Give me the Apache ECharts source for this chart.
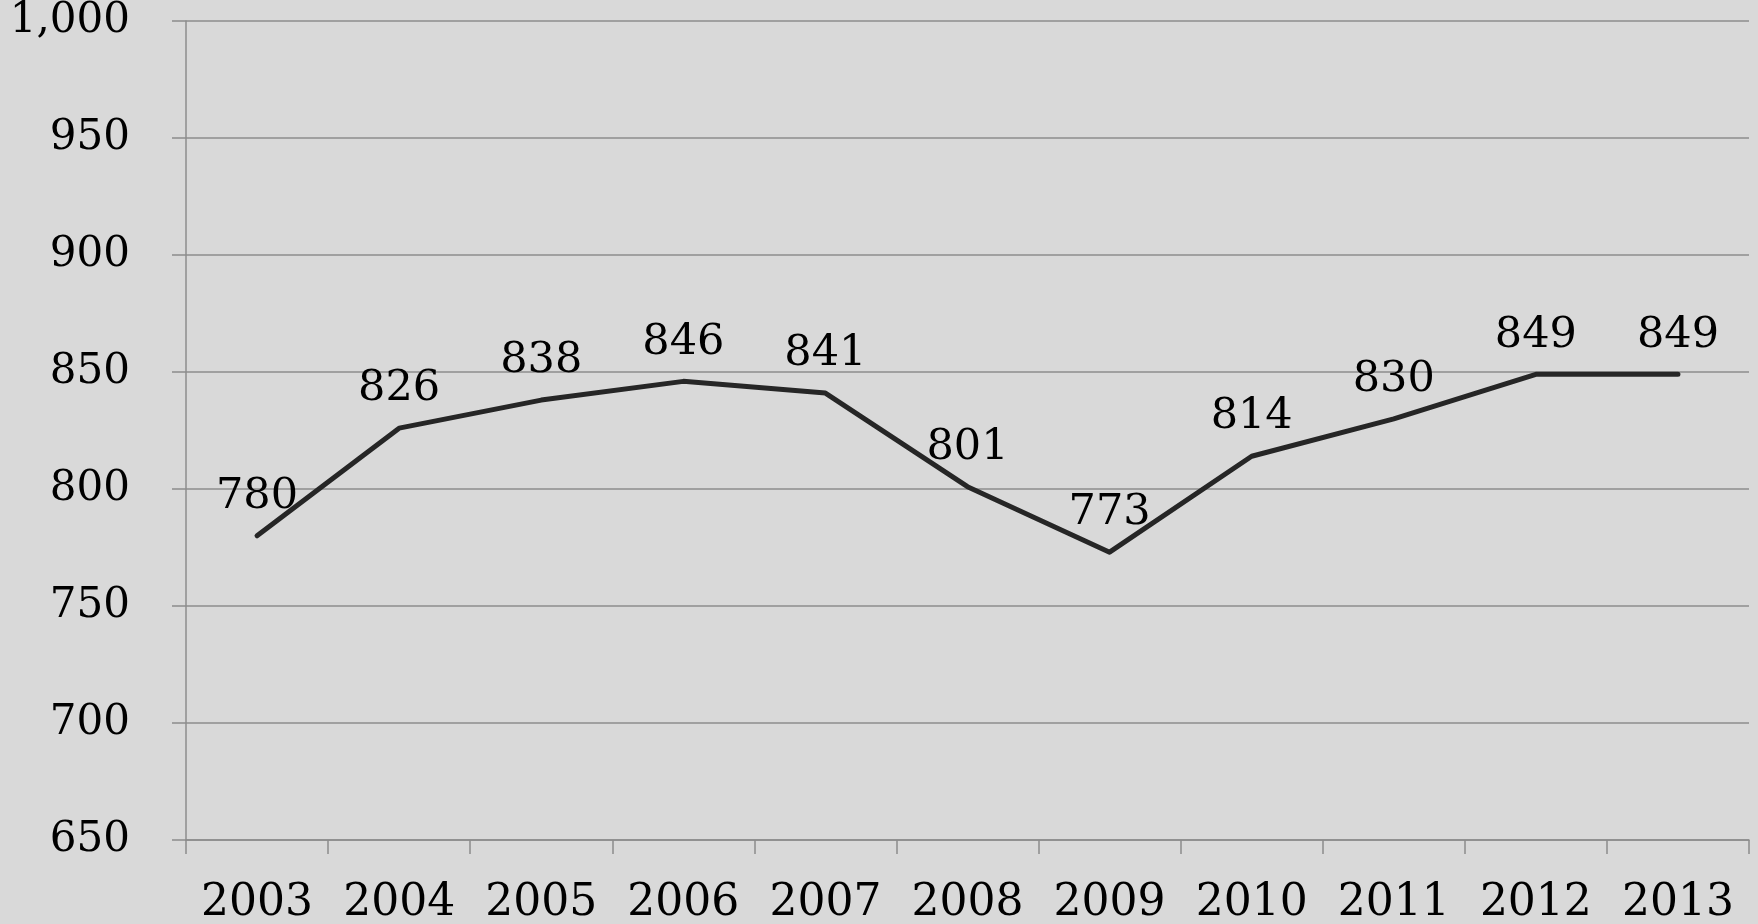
<!DOCTYPE html>
<html>
<head>
<meta charset="utf-8">
<script src="https://cdn.jsdelivr.net/npm/echarts@6/dist/echarts.min.js"></script>
<style>
  html, body { margin: 0; padding: 0; background: #d9d9d9; overflow: hidden; }
  #chart { width: 1758px; height: 924px; }
</style>
</head>
<body>
<div id="chart"></div>
<script>
// data
var years = ['2003', '2004', '2005', '2006', '2007', '2008', '2009', '2010', '2011', '2012', '2013'];
var values = [780, 826, 838, 846, 841, 801, 773, 814, 830, 849, 849];
var yMin = 650;
var yMax = 1000;
var yStep = 50;

var FONT = '"DejaVu Serif", "Liberation Serif", serif';
var GRID_COLOR = '#8c8c8c';

var chart = echarts.init(document.getElementById('chart'));
chart.setOption({
  backgroundColor: '#d9d9d9',
  animation: false,
  grid: {
    left: 186,
    right: 9,
    top: 21,
    bottom: 84,
    outerBoundsMode: 'none'
  },
  xAxis: {
    type: 'category',
    data: years,
    boundaryGap: true,
    axisLine: { show: true, lineStyle: { color: GRID_COLOR, width: 1.5 } },
    axisTick: { show: true, interval: 0, length: 14, alignWithLabel: false, lineStyle: { color: GRID_COLOR, width: 1.5 } },
    axisLabel: { interval: 0, color: '#000', fontFamily: FONT, fontSize: 44, margin: 42 }
  },
  yAxis: {
    type: 'value',
    min: yMin,
    max: yMax,
    interval: yStep,
    axisLine: { show: true, lineStyle: { color: GRID_COLOR, width: 1.5 } },
    axisTick: { show: true, length: 14, lineStyle: { color: GRID_COLOR, width: 1.5 } },
    splitLine: { show: true, lineStyle: { color: GRID_COLOR, width: 1.5 } },
    axisLabel: {
      color: '#000',
      fontFamily: FONT,
      fontSize: 42,
      margin: 56,
      formatter: function (v) { return v.toLocaleString('en-US'); }
    }
  },
  series: [
    {
      type: 'line',
      data: values,
      symbol: 'circle',
      symbolSize: 1,
      showSymbol: true,
      itemStyle: { color: 'rgba(0,0,0,0)' },
      lineStyle: { color: '#262626', width: 5, cap: 'round', join: 'round' },
      label: {
        show: true,
        position: 'top',
        distance: 17,
        color: '#000',
        fontFamily: FONT,
        fontSize: 43
      }
    }
  ]
});
</script>
</body>
</html>
